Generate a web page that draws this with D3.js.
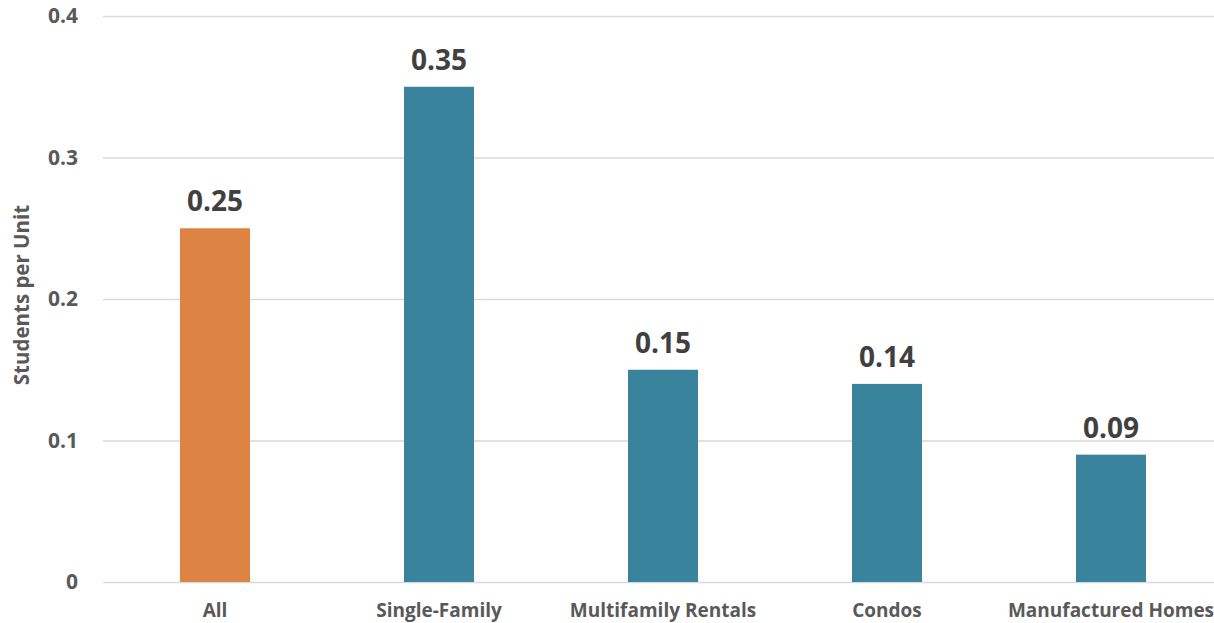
<!DOCTYPE html>
<html>
<head>
<meta charset="utf-8">
<script src="https://cdn.jsdelivr.net/npm/d3@7"></script>
<style>
  body { margin: 0; background: #fff; }
  text { font-family: "Open Sans", Lato, sans-serif; font-weight: bold; }
</style>
</head>
<body>
<div id="chart"></div>
<script>
var categories = ["All", "Single-Family", "Multifamily Rentals", "Condos", "Manufactured Homes"];
var values = [0.25, 0.35, 0.15, 0.14, 0.09];
var barColors = ["#DD8344", "#3A839C", "#3A839C", "#3A839C", "#3A839C"];
var yTicks = [0, 0.1, 0.2, 0.3, 0.4];

var width = 1214, height = 623;

var svg = d3.select("#chart")
    .append("svg")
    .attr("width", width)
    .attr("height", height)

var x = d3.scaleBand()
    .domain(categories)
    .range([103, 1223])
    .paddingInner(0.6875)
    .paddingOuter(0.34375)

var y = d3.scaleLinear()
    .domain([0, 0.4])
    .range([582, 16])

// gridlines + tick labels
var yAxis = svg.append("g")
    .attr("transform", "translate(103,0)")
    .call(d3.axisLeft(y).tickValues(yTicks).tickSize(-1120).tickFormat(d => d === 0 ? "0" : d3.format(".1f")(d)))

yAxis.select(".domain").remove()
yAxis.selectAll(".tick line")
    .attr("stroke", "#d9d9d9")
    .attr("stroke-width", 1.5)
yAxis.selectAll(".tick text")
    .attr("x", -25)
    .attr("fill", "#595959")
    .attr("font-size", 21)

svg.append("g")
    .selectAll("rect")
    .data(values)
    .join("rect")
    .attr("x", (d, i) => x(categories[i]))
    .attr("y", d => y(d))
    .attr("width", x.bandwidth())
    .attr("height", d => y(0) - y(d))
    .attr("fill", (d, i) => barColors[i])

svg.append("g")
    .selectAll("text")
    .data(values)
    .join("text")
    .attr("x", (d, i) => x(categories[i]) + x.bandwidth() / 2)
    .attr("y", d => y(d) - 17)
    .attr("text-anchor", "middle")
    .attr("font-size", 28)
    .attr("fill", "#404040")
    .text(d => d3.format(".2f")(d))

svg.append("g")
    .selectAll("text")
    .data(categories)
    .join("text")
    .attr("x", d => x(d) + x.bandwidth() / 2)
    .attr("y", 617)
    .attr("text-anchor", "middle")
    .attr("font-size", 19)
    .attr("fill", "#595959")
    .text(d => d)

svg.append("text")
    .attr("transform", "translate(29,295) rotate(-90)")
    .attr("text-anchor", "middle")
    .attr("font-size", 20.5)
    .attr("fill", "#595959")
    .text("Students per Unit")
</script>
</body>
</html>
